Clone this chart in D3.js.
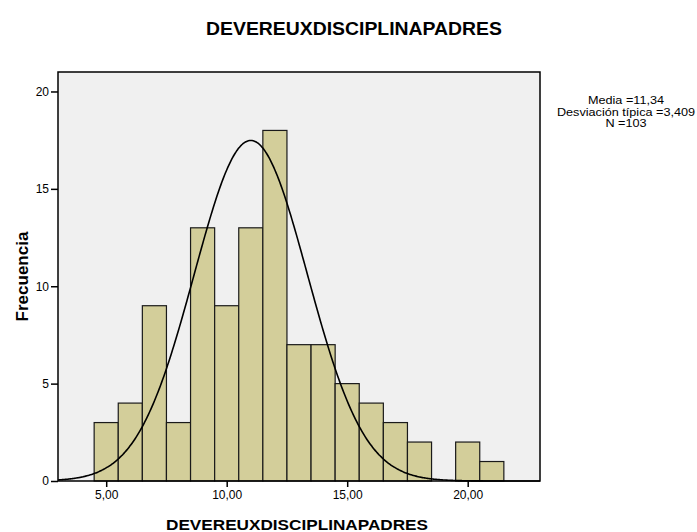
<!DOCTYPE html>
<html>
<head>
<meta charset="utf-8">
<script src="https://cdn.jsdelivr.net/npm/d3@7"></script>
<style>
  body { margin: 0; background: #fff; }
  text { font-family: "Liberation Sans", Arial, sans-serif; }
</style>
</head>
<body>
<script>
// dati del grafico
const binStarts = [4.5, 5.5, 6.5, 7.5, 8.5, 9.5, 10.5, 11.5, 12.5, 13.5, 14.5, 15.5, 16.5, 17.5, 18.5, 19.5, 20.5];
const counts    = [3, 4, 9, 3, 13, 9, 13, 18, 7, 7, 5, 4, 3, 2, 0, 2, 1];
const binWidth = 1;
const xTicks = [5, 10, 15, 20];
const yTicks = [0, 5, 10, 15, 20];
const statLines = ["Media =11,34", "Desviación típica =3,409", "N =103"];
// curva normale come disegnata nella figura
const curveMean = 11.0;
const curveSd = 2.35;
const curveN = 103;

const W = 697, H = 532;
const margins = { left: 58, right: 157, top: 72, bottom: 51 };

const svg = d3.select("body").append("svg")
    .attr("width", W)
    .attr("height", H);

const xScale = d3.scaleLinear().domain([3, 23]).range([margins.left, W - margins.right]);
const yScale = d3.scaleLinear().domain([0, 21]).range([H - margins.bottom, margins.top]);

// sfondo area del grafico
svg.append("rect")
    .attr("x", margins.left)
    .attr("y", margins.top)
    .attr("width", W - margins.right - margins.left)
    .attr("height", H - margins.bottom - margins.top)
    .style("fill", "#f0f0f0");

// barre
svg.selectAll(".bar")
    .data(binStarts.map((b, i) => ({ x0: b, x1: b + binWidth, n: counts[i] })).filter(d => d.n > 0))
    .enter().append("rect")
    .attr("class", "bar")
    .attr("x", d => xScale(d.x0))
    .attr("y", d => yScale(d.n))
    .attr("width", d => xScale(d.x1) - xScale(d.x0))
    .attr("height", d => yScale(0) - yScale(d.n))
    .style("fill", "#d3ce9a")
    .style("stroke", "#1a1a1a")
    .style("stroke-width", 1.2);

// curva normale
const pts = d3.range(3, 23.001, 0.05).map(v => {
    const z = (v - curveMean) / curveSd;
    return [v, curveN * binWidth / (curveSd * Math.sqrt(2 * Math.PI)) * Math.exp(-0.5 * z * z)];
});
svg.append("path")
    .datum(pts)
    .attr("d", d3.line().x(d => xScale(d[0])).y(d => yScale(d[1])).curve(d3.curveBasis))
    .style("fill", "none")
    .style("stroke", "#000")
    .style("stroke-width", 1.6);

// cornice
svg.append("rect")
    .attr("x", margins.left)
    .attr("y", margins.top)
    .attr("width", W - margins.right - margins.left)
    .attr("height", H - margins.bottom - margins.top)
    .style("fill", "none")
    .style("stroke", "#000")
    .style("stroke-width", 1.5);

// assi
const xAxis = svg.append("g")
    .attr("transform", "translate(0," + (H - margins.bottom) + ")")
    .call(d3.axisBottom(xScale).tickValues(xTicks).tickSize(6).tickSizeOuter(0)
        .tickFormat(d => d3.format(".2f")(d).replace(".", ",")));
const yAxis = svg.append("g")
    .attr("transform", "translate(" + margins.left + ",0)")
    .call(d3.axisLeft(yScale).tickValues(yTicks).tickSize(7).tickSizeOuter(0).tickPadding(2));

[xAxis, yAxis].forEach(a => {
    a.select(".domain").remove();
    a.selectAll("line").style("stroke", "#000").style("stroke-width", 1.5);
    a.selectAll("text").style("font-size", "12px").style("fill", "#000")
        .style("font-family", "'Liberation Sans', Arial, sans-serif");
});

// titolo
svg.append("text")
    .text("DEVEREUXDISCIPLINAPADRES")
    .attr("x", 354)
    .attr("y", 35)
    .attr("text-anchor", "middle")
    .style("font-size", "18px")
    .style("font-weight", "bold")
    .attr("textLength", 296)
    .attr("lengthAdjust", "spacingAndGlyphs");

// etichette degli assi
svg.append("text")
    .text("DEVEREUXDISCIPLINAPADRES")
    .attr("x", 297)
    .attr("y", 530)
    .attr("text-anchor", "middle")
    .style("font-size", "15px")
    .style("font-weight", "bold")
    .attr("textLength", 262)
    .attr("lengthAdjust", "spacingAndGlyphs");

svg.append("text")
    .text("Frecuencia")
    .attr("transform", "translate(28," + ((margins.top + H - margins.bottom) / 2) + ") rotate(-90)")
    .attr("text-anchor", "middle")
    .style("font-size", "17px")
    .style("font-weight", "bold");

// statistiche (un po' allargate come nell'originale)
svg.selectAll(".stat")
    .data(statLines)
    .enter().append("text")
    .attr("class", "stat")
    .text(d => d)
    .attr("x", 626)
    .attr("y", (d, i) => 104 + i * 11.5)
    .attr("text-anchor", "middle")
    .style("font-size", "11.5px")
    .each(function() {
        const len = this.getComputedTextLength();
        d3.select(this).attr("textLength", len * 1.1).attr("lengthAdjust", "spacingAndGlyphs");
    });
</script>
</body>
</html>
